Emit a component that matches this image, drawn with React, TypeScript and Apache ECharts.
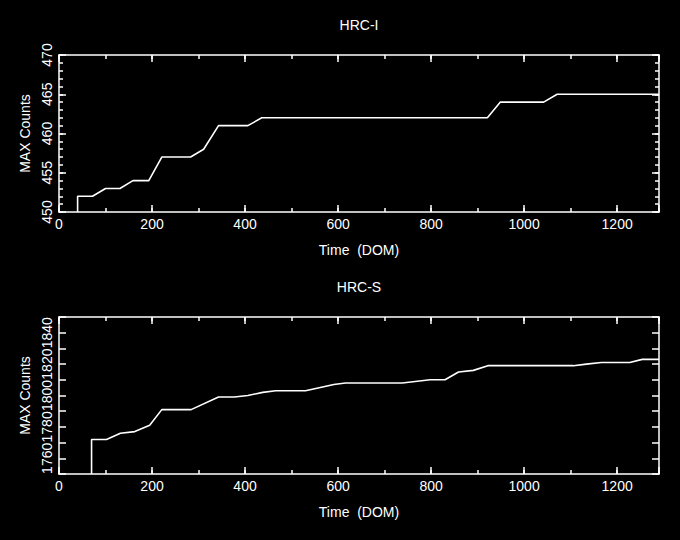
import React, { useEffect, useRef } from "react";
import * as echarts from "echarts";

// HRC-I panel
const hrciTime = [40, 40, 72, 100, 131, 159, 193, 221, 283, 311, 343, 406, 436, 921, 949, 1042, 1071, 1290];
const hrciMax = [450, 452, 452, 453, 453, 454, 454, 457, 457, 458, 461, 461, 462, 462, 464, 464, 465, 465];

// HRC-S panel
const hrcsTime = [70, 70, 102, 132, 163, 195, 221, 284, 343, 377, 406, 438, 466, 530, 591, 616, 738, 798, 830, 859, 891, 922, 1106, 1134, 1166, 1227, 1254, 1290];
const hrcsMax = [1750, 1772, 1772, 1776, 1777, 1781, 1791, 1791, 1799, 1799, 1800, 1802, 1803, 1803, 1807, 1808, 1808, 1810, 1810, 1815, 1816, 1819, 1819, 1820, 1821, 1821, 1823, 1823];

const panelTitles = ["HRC-I", "HRC-S"];
const xAxisTitle = "Time  (DOM)";
const yAxisTitle = "MAX Counts";

const FONT = "Liberation Sans, Arial, Helvetica, sans-serif";
const WHITE = "#ffffff";

export default function App() {
  const ref = useRef<HTMLDivElement>(null);

  useEffect(() => {
    document.body.style.margin = "0";
    document.body.style.background = "#000";
    const chart = echarts.init(ref.current!, null, { renderer: "svg" });

    const grids = [
      { left: 59, top: 55, width: 600, height: 157 },
      { left: 59, top: 317, width: 600, height: 157 },
    ];

    const lineStyle = { color: WHITE, width: 1.5 };
    const textStyle = { color: WHITE, fontFamily: FONT, fontSize: 14 };

    const makeX = (grid: number, position: string, major: boolean, labeled: boolean) => ({
      type: "value",
      gridIndex: grid,
      position,
      min: 0,
      max: 1290,
      interval: major ? 200 : 100,
      axisLine: { show: major, onZero: false, lineStyle },
      axisTick: { show: true, inside: true, length: major ? 7 : 4, lineStyle },
      axisLabel: labeled
        ? {
            show: true,
            margin: 5,
            ...textStyle,
            formatter: (v: number) => (v % 200 === 0 ? String(v) : ""),
          }
        : { show: false },
      splitLine: { show: false },
      name: labeled ? xAxisTitle : "",
      nameLocation: "middle",
      nameGap: 31,
      nameTextStyle: textStyle,
    });

    const makeY = (
      grid: number,
      position: string,
      min: number,
      max: number,
      interval: number,
      tickLen: number,
      showLine: boolean,
      labelEvery: number | null
    ) => ({
      type: "value",
      gridIndex: grid,
      position,
      min,
      max,
      interval,
      axisLine: { show: showLine, onZero: false, lineStyle },
      axisTick: { show: true, inside: true, length: tickLen, lineStyle },
      axisLabel:
        labelEvery !== null
          ? {
              show: true,
              rotate: 90,
              margin: 5,
              ...textStyle,
              formatter: (v: number) => (v % labelEvery === 0 ? String(v) : ""),
            }
          : { show: false },
      splitLine: { show: false },
      name: labelEvery !== null ? yAxisTitle : "",
      nameLocation: "middle",
      nameRotate: 90,
      nameGap: 26,
      nameTextStyle: textStyle,
    });

    const xAxes = [
      makeX(0, "bottom", true, true),
      makeX(0, "bottom", false, false),
      makeX(0, "top", true, false),
      makeX(0, "top", false, false),
      makeX(1, "bottom", true, true),
      makeX(1, "bottom", false, false),
      makeX(1, "top", true, false),
      makeX(1, "top", false, false),
    ];

    const yAxes = [
      makeY(0, "left", 450, 470, 5, 7, true, 5),
      makeY(0, "left", 450, 470, 1, 4, false, null),
      makeY(0, "right", 450, 470, 5, 7, true, null),
      makeY(0, "right", 450, 470, 1, 4, false, null),
      makeY(1, "left", 1750, 1850, 10, 7, true, 20),
      makeY(1, "right", 1750, 1850, 10, 7, true, null),
    ];

    const series = [
      {
        type: "line",
        xAxisIndex: 0,
        yAxisIndex: 0,
        data: hrciTime.map((t, i) => [t, hrciMax[i]]),
        showSymbol: false,
        symbol: "none",
        lineStyle: { color: WHITE, width: 1.6 },
        clip: true,
      },
      {
        type: "line",
        xAxisIndex: 4,
        yAxisIndex: 4,
        data: hrcsTime.map((t, i) => [t, hrcsMax[i]]),
        showSymbol: false,
        symbol: "none",
        lineStyle: { color: WHITE, width: 1.6 },
        clip: true,
      },
    ];

    const graphic = [
      {
        type: "text",
        x: 359,
        y: 25,
        style: {
          text: panelTitles[0],
          fill: WHITE,
          font: `14px ${FONT}`,
          align: "center",
          verticalAlign: "middle",
        },
      },
      {
        type: "text",
        x: 359,
        y: 287,
        style: {
          text: panelTitles[1],
          fill: WHITE,
          font: `14px ${FONT}`,
          align: "center",
          verticalAlign: "middle",
        },
      },
    ];

    chart.setOption({
      animation: false,
      backgroundColor: "#000000",
      grid: grids,
      xAxis: xAxes,
      yAxis: yAxes,
      series,
      graphic,
    } as any);

    return () => chart.dispose();
  }, []);

  return (
    <div
      ref={ref}
      style={{ position: "fixed", left: 0, top: 0, width: 680, height: 540, background: "#000" }}
    />
  );
}
